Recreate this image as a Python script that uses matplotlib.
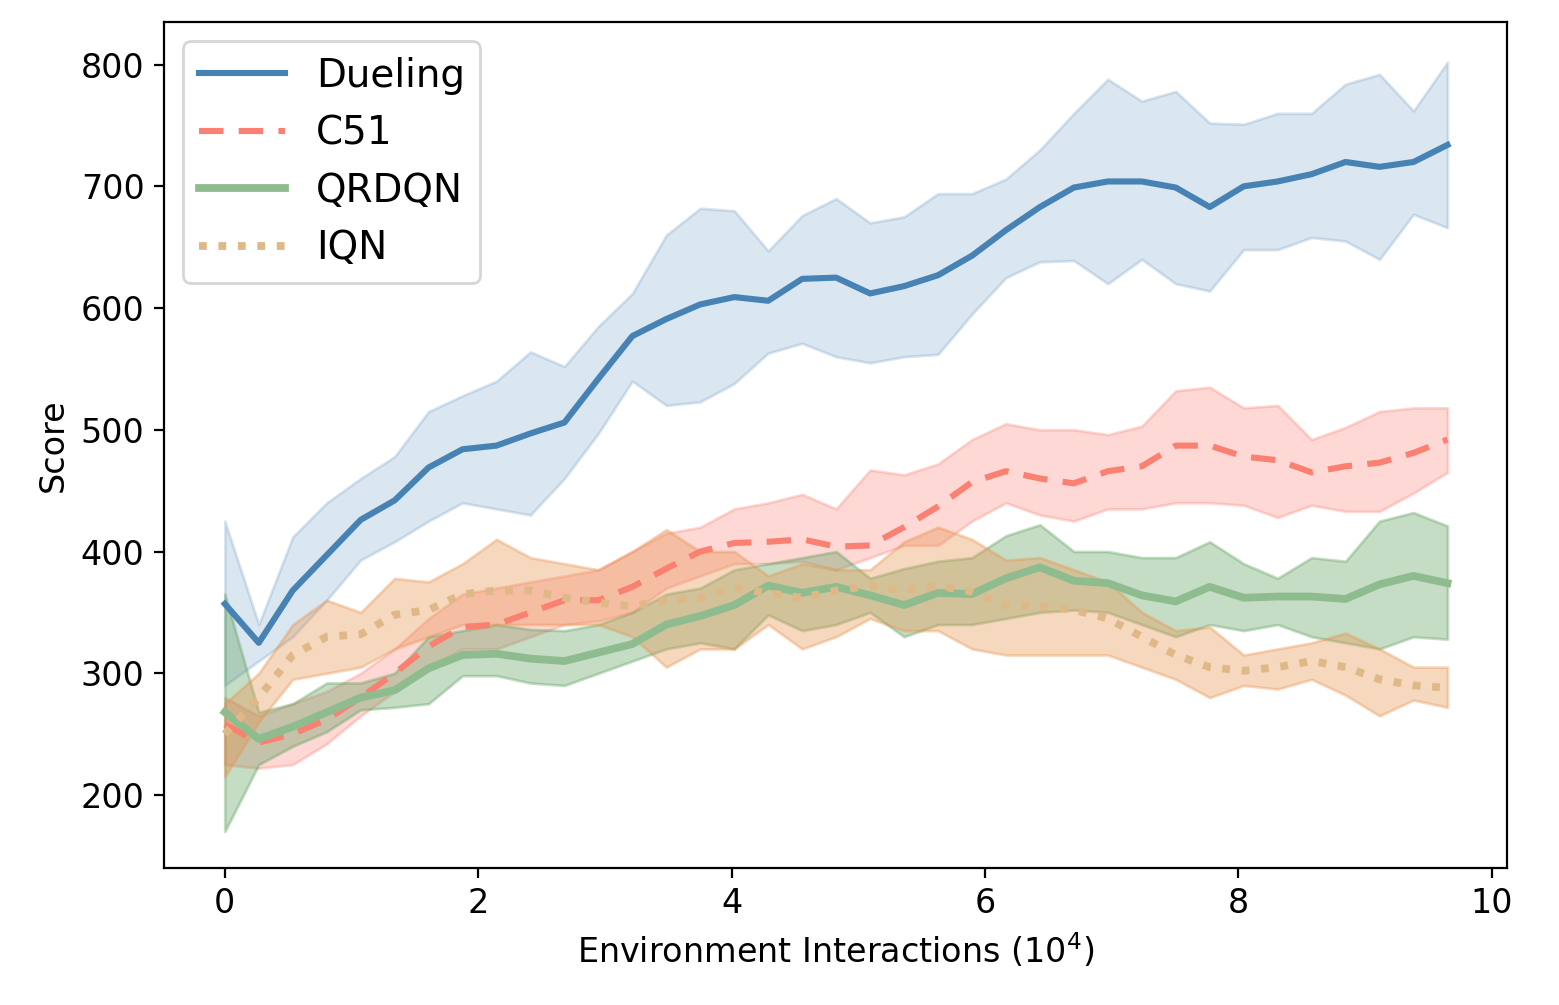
import numpy as np
import matplotlib
matplotlib.use("Agg")
import matplotlib.pyplot as plt

n = 37
x = np.linspace(0, 9.65, n)

duel = [357,325,368,397,426,442,469,484,487,497,506,542,577,591,603,609,606,624,625,612,618,627,643,664,683,699,704,704,699,683,700,704,710,720,716,720,734]
duel_hi = [425,340,412,440,460,478,515,528,540,564,552,585,612,660,682,680,647,676,690,670,675,694,694,706,730,760,788,770,778,752,751,760,760,784,792,762,802]
duel_lo = [290,310,330,360,393,408,425,440,435,430,460,497,540,520,523,538,563,571,560,555,560,562,595,625,638,639,620,640,620,614,648,648,658,655,640,677,666]

c51 = [258,243,250,262,280,300,322,338,340,350,360,360,371,386,400,407,408,410,404,405,420,437,457,466,460,456,466,470,487,487,478,475,465,470,473,481,492]
c51_hi = [280,265,275,285,300,320,345,365,370,375,380,385,400,415,420,435,440,447,435,467,463,472,492,505,500,500,496,503,532,535,518,520,492,502,515,518,518]
c51_lo = [225,222,225,242,265,285,305,320,320,330,340,343,350,370,380,390,390,392,385,395,405,405,425,440,430,425,435,435,440,440,438,428,438,433,433,448,465]

qr = [268,246,256,268,280,286,304,315,316,312,310,317,324,340,347,356,372,366,371,364,356,366,365,378,387,376,374,364,359,371,362,363,363,361,373,380,374]
qr_hi = [365,268,275,292,292,300,330,335,340,336,335,340,350,365,370,385,390,395,400,378,386,392,395,413,422,400,400,395,395,408,390,378,395,392,425,432,421]
qr_lo = [170,225,240,252,270,272,275,298,298,292,290,300,310,320,325,320,348,335,340,350,330,340,340,345,350,352,350,340,330,340,335,340,330,325,320,330,328]

iqn = [250,280,315,330,332,348,352,365,368,368,362,358,355,360,362,370,366,362,368,372,368,372,367,356,355,352,345,330,315,305,302,305,310,305,295,290,288]
iqn_hi = [275,300,340,360,350,378,375,390,410,395,390,385,400,418,400,400,380,390,385,385,408,420,410,393,395,385,375,350,335,338,315,320,325,333,320,305,305]
iqn_lo = [215,260,295,300,305,320,330,340,340,340,340,340,330,305,320,320,340,320,330,345,335,335,320,315,315,315,315,305,295,280,290,287,295,282,265,278,272]

fig = plt.figure(figsize=(7.795, 5.025), dpi=200)
ax = fig.add_axes([164/1559, 1-868/1005, (1507-164)/1559, (868-22)/1005])

ax.fill_between(x, duel_lo, duel_hi, color="#4682b4", alpha=0.2)
ax.fill_between(x, c51_lo, c51_hi, color="#fa8072", alpha=0.3)
ax.fill_between(x, qr_lo, qr_hi, color="#5a9e5a", alpha=0.35)
ax.fill_between(x, iqn_lo, iqn_hi, color="#e8904a", alpha=0.35)

ax.plot(x, duel, color="#4682b4", lw=2.2, label="Dueling")
ax.plot(x, c51, color="#fa8072", lw=2.2, ls=(0, (4, 2.5)), label="C51")
ax.plot(x, qr, color="#8fbc8f", lw=2.8, label="QRDQN")
ax.plot(x, iqn, color="#deb887", lw=2.8, ls=(0, (1, 1.5)), label="IQN")

ax.set_xlim(-0.48, 10.12)
ax.set_ylim(140, 835)
ax.set_xticks([0, 2, 4, 6, 8, 10])
ax.set_yticks([200, 300, 400, 500, 600, 700, 800])
ax.tick_params(labelsize=12)
ax.set_xlabel("Environment Interactions ($10^4$)", fontsize=12)
ax.set_ylabel("Score", fontsize=12)
ax.legend(loc="upper left", fontsize=14, handlelength=2.2)

fig.savefig("out.png", dpi=200)
